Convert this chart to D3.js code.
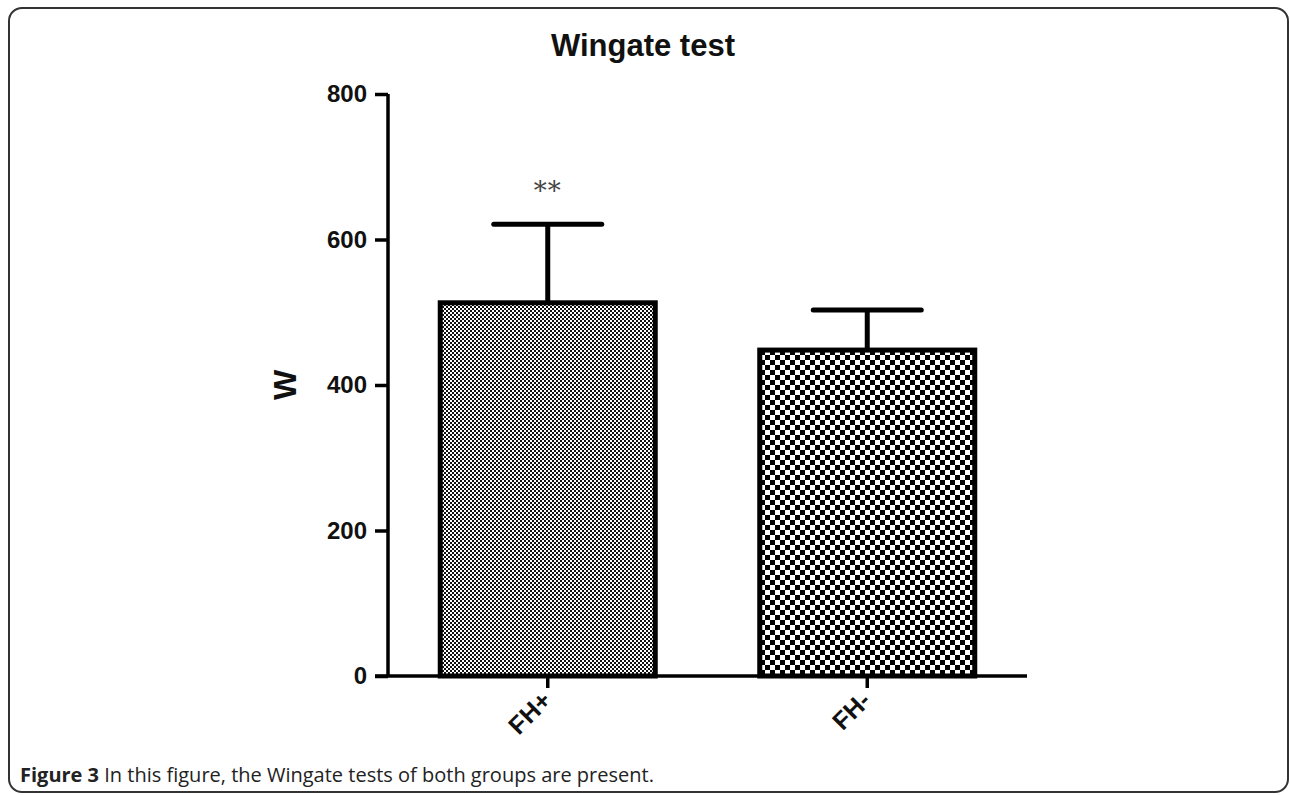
<!DOCTYPE html>
<html>
<head>
<meta charset="utf-8">
<script src="https://cdn.jsdelivr.net/npm/d3@7"></script>
<style>
  body { margin: 0; background: #fff; }
  svg { display: block; }
</style>
</head>
<body>
<svg id="chart" width="1290" height="795"></svg>
<script>
const categories = ["FH+", "FH-"];
const means = [513, 448];
const sds = [108, 55];
const significance = ["**", ""];
const yTicks = [0, 200, 400, 600, 800];
const titleText = "Wingate test";
const yLabel = "W";
const captionBold = "Figure 3";
const captionRest = " In this figure, the Wingate tests of both groups are present.";

const svg = d3.select("#chart");

svg.append("rect")
  .attr("x", 9).attr("y", 8).attr("width", 1279).attr("height", 784)
  .attr("rx", 13).attr("ry", 13)
  .attr("fill", "none").attr("stroke", "#333").attr("stroke-width", 2);

const defs = svg.append("defs");
const p1 = defs.append("pattern").attr("id", "pat0").attr("patternUnits", "userSpaceOnUse")
  .attr("width", 4).attr("height", 4);
p1.append("rect").attr("width", 4).attr("height", 4).attr("fill", "#fff");
p1.append("rect").attr("x", 0).attr("y", 0).attr("width", 2).attr("height", 2).attr("fill", "#111");
p1.append("rect").attr("x", 2).attr("y", 2).attr("width", 2).attr("height", 2).attr("fill", "#111");
const p2 = defs.append("pattern").attr("id", "pat1").attr("patternUnits", "userSpaceOnUse")
  .attr("width", 10).attr("height", 10);
p2.append("rect").attr("width", 10).attr("height", 10).attr("fill", "#fff");
p2.append("rect").attr("x", 0).attr("y", 0).attr("width", 5).attr("height", 5).attr("fill", "#000");
p2.append("rect").attr("x", 5).attr("y", 5).attr("width", 5).attr("height", 5).attr("fill", "#000");

const x = d3.scaleBand().domain(categories).range([388, 1027]).paddingInner(0.327).paddingOuter(0.1635);
const y = d3.scaleLinear().domain([0, 800]).range([676, 94]);

const font = "'Liberation Sans', Arial, sans-serif";

svg.append("text").attr("x", 643).attr("y", 56).attr("text-anchor", "middle")
  .attr("font-family", font).attr("font-weight", "bold").attr("font-size", 31)
  .attr("fill", "#111").text(titleText);

const data = categories.map((c, i) => ({c, m: means[i], sd: sds[i], sig: significance[i], i}));

data.forEach(d => {
  const cx = x(d.c) + x.bandwidth() / 2;
  svg.append("line").attr("x1", cx).attr("x2", cx).attr("y1", y(d.m)).attr("y2", y(d.m + d.sd))
    .attr("stroke", "#000").attr("stroke-width", 5);
  svg.append("line").attr("x1", cx - 54).attr("x2", cx + 54).attr("y1", y(d.m + d.sd)).attr("y2", y(d.m + d.sd))
    .attr("stroke", "#000").attr("stroke-width", 5).attr("stroke-linecap", "round");
  if (d.sig) {
    svg.append("text").attr("x", cx).attr("y", y(d.m + d.sd) - 24).attr("text-anchor", "middle")
      .attr("font-family", "'DejaVu Serif', serif").attr("font-size", 26).attr("fill", "#444")
      .attr("letter-spacing", 1).text(d.sig);
  }
});

svg.selectAll("rect.bar").data(data).enter().append("rect").attr("class", "bar")
  .attr("x", d => x(d.c)).attr("width", x.bandwidth())
  .attr("y", d => y(d.m)).attr("height", d => y(0) - y(d.m))
  .attr("fill", d => `url(#pat${d.i})`).attr("stroke", "#000").attr("stroke-width", 5);

const yAxis = svg.append("g").attr("transform", "translate(388,0)")
  .call(d3.axisLeft(y).tickValues(yTicks).tickSize(13).tickPadding(8));
yAxis.select(".domain").attr("stroke-width", 3.5).attr("d", `M0,${y(800)}V${y(0)}`);
yAxis.selectAll(".tick line").attr("stroke-width", 3.5);
yAxis.selectAll("text").attr("font-family", font).attr("font-weight", "bold").attr("font-size", 24).attr("fill", "#111");

const xAxis = svg.append("g").attr("transform", `translate(0,${y(0)})`)
  .call(d3.axisBottom(x).tickSize(12).tickSizeOuter(0));
xAxis.select(".domain").attr("stroke-width", 3.5).attr("d", `M375,0H1027`);
xAxis.selectAll(".tick line").attr("stroke-width", 3.5);
xAxis.selectAll("text").attr("font-family", font).attr("font-weight", "bold").attr("font-size", 25).attr("fill", "#111")
  .attr("text-anchor", "end").attr("dy", 0).attr("y", 0)
  .attr("transform", "translate(5,26) rotate(-45)");

svg.append("text").attr("transform", "translate(296,385) rotate(-90)").attr("text-anchor", "middle")
  .attr("font-family", font).attr("font-weight", "bold").attr("font-size", 32).attr("fill", "#111").text(yLabel);

const cap = svg.append("text").attr("x", 20).attr("y", 782)
  .attr("font-family", "'Open Sans', sans-serif").attr("font-size", 20).attr("fill", "#222");
cap.append("tspan").attr("font-weight", "bold").text(captionBold);
cap.append("tspan").text(captionRest);
</script>
</body>
</html>
